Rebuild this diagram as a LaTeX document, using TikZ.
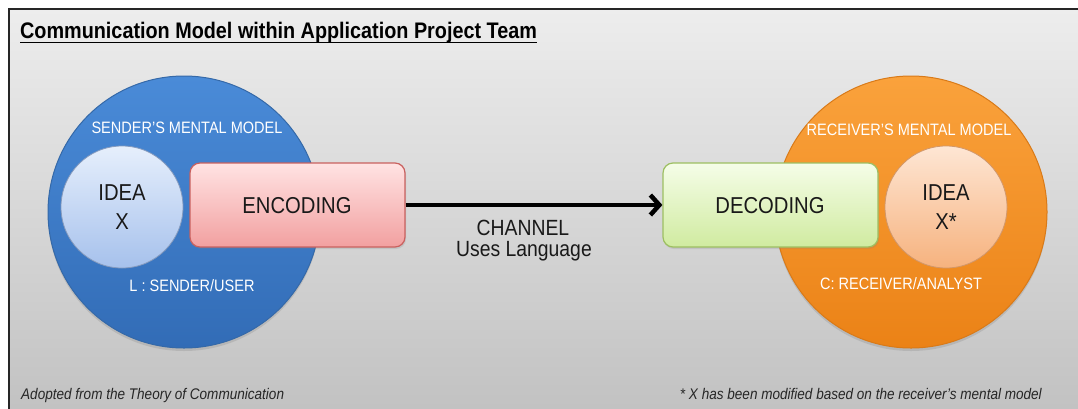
\documentclass[tikz,border=0pt]{standalone}
\usepackage{fontspec}
\setmainfont{Liberation Sans}[FakeStretch=0.88]
\usetikzlibrary{arrows.meta,shadows}

\definecolor{panelTop}{HTML}{EDEDED}
\definecolor{panelBot}{HTML}{C2C2C2}
\definecolor{senderTop}{HTML}{4A8BD8}
\definecolor{senderBot}{HTML}{326CB6}
\definecolor{senderLine}{HTML}{3569A8}
\definecolor{ideaLTop}{HTML}{E6EFFC}
\definecolor{ideaLBot}{HTML}{A6C1EC}
\definecolor{recvTop}{HTML}{FAA23C}
\definecolor{recvBot}{HTML}{EB8216}
\definecolor{recvLine}{HTML}{D97A18}
\definecolor{ideaRTop}{HTML}{FEE6D4}
\definecolor{ideaRBot}{HTML}{F6B27E}
\definecolor{encTop}{HTML}{FFE3E3}
\definecolor{encBot}{HTML}{F2A0A0}
\definecolor{encLine}{HTML}{C9615F}
\definecolor{decTop}{HTML}{F5FDE8}
\definecolor{decBot}{HTML}{D0EBA0}
\definecolor{decLine}{HTML}{9DBF62}

\tikzset{
  mind/.style={circle, minimum size=272pt, inner sep=0pt, line width=1pt,
    drop shadow={shadow xshift=0pt, shadow yshift=-3pt, opacity=0.25}},
  idea/.style={circle, minimum size=122pt, inner sep=0pt, line width=0.8pt},
  codebox/.style={rounded corners=10pt, minimum width=215pt, minimum height=84pt,
    inner sep=0pt, line width=1.2pt,
    drop shadow={shadow xshift=1pt, shadow yshift=-2pt, opacity=0.2}},
  whitelbl/.style={text=white, font=\fontsize{16.5}{18}\selectfont, inner sep=0pt},
  biglbl/.style={text=black!90, font=\fontsize{23}{27}\selectfont, inner sep=0pt},
  chanlbl/.style={text=black!90, font=\fontsize{22}{24}\selectfont, inner sep=0pt},
  notelbl/.style={text=black!85, font=\itshape\fontsize{15.4}{17}\selectfont, inner sep=0pt},
  channel/.style={line width=4.5pt, -{Straight Barb[length=9pt,width=20pt]}},
}

\begin{document}
\begin{tikzpicture}[x=1pt,y=-1pt]
\useasboundingbox (0,0) rectangle (1078,408);

% framed panel with a light grey gradient
\shade[top color=panelTop, bottom color=panelBot] (9,9) rectangle (1078,408);
\draw[line width=2.2pt, black!85] (1080,9) -- (9,9) -- (9,410);

% title
\node[anchor=base west, inner sep=0pt, font=\bfseries\fontsize{22.5}{24}\selectfont]
  (title) at (20,38.5) {Communication Model within Application Project Team};
\draw[line width=1.5pt] (title.base west) ++(0,4) coordinate (ulA) -- (title.base east |- ulA);

% sender side
\node[mind, draw=senderLine, top color=senderTop, bottom color=senderBot] (sender) at (184,212) {};
\node[idea, draw=ideaLBot!80!black, top color=ideaLTop, bottom color=ideaLBot] (ideaL) at (122,207) {};
\node[codebox, draw=encLine, top color=encTop, bottom color=encBot] (enc) at (297.5,205) {};
\node[whitelbl] (smm) at (187,128) {SENDER’S MENTAL MODEL};
\node[whitelbl] (su) at (192,286) {L : SENDER/USER};
\node[biglbl] (ideaLa) at (122,193) {IDEA};
\node[biglbl] (ideaLb) at (122,222) {X};
\node[biglbl] (encT) at (297,206) {ENCODING};

% receiver side
\node[mind, draw=recvLine, top color=recvTop, bottom color=recvBot] (recv) at (911,212) {};
\node[idea, draw=ideaRBot!85!black, top color=ideaRTop, bottom color=ideaRBot] (ideaR) at (946,207) {};
\node[codebox, draw=decLine, top color=decTop, bottom color=decBot] (dec) at (770.5,205) {};
\node[whitelbl] (rmm) at (909,130) {RECEIVER’S MENTAL MODEL};
\node[whitelbl] (ra) at (901,284) {C: RECEIVER/ANALYST};
\node[biglbl] (ideaRa) at (946,193) {IDEA};
\node[biglbl] (ideaRb) at (946,222) {X*};
\node[biglbl] (decT) at (770,206) {DECODING};

% channel between encoder and decoder
\draw[channel] (enc.east) -- (dec.west);
\node[chanlbl] (ch1) at (523,228) {CHANNEL};
\node[chanlbl] (ch2) at (524,251.5) {Uses Language};

% footnotes
\node[notelbl, anchor=base west] (src) at (21,399.5) {Adopted from the Theory of Communication};
\node[notelbl, anchor=base east] (mod) at (1042,399.5) {* X has been modified based on the receiver’s mental model};
\end{tikzpicture}
\end{document}
